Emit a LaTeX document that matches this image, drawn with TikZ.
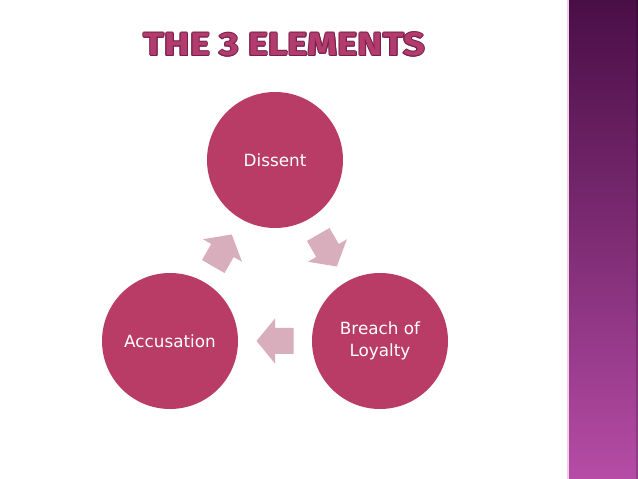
\documentclass[tikz,border=0pt]{standalone}
\usepackage{fontspec}
\setmainfont{DejaVu Sans}
\newfontfamily\titlefont{Fira Sans}[UprightFont=* Bold]
\usetikzlibrary{calc}
\definecolor{circfill}{HTML}{B83C66}
\definecolor{arrowfill}{HTML}{D9AEBC}
\definecolor{titlefill}{HTML}{B23C6E}
\definecolor{titleline}{HTML}{7A1E4B}
\definecolor{barTop}{HTML}{4A0E47}
\definecolor{barMid}{HTML}{7E2C74}
\definecolor{barBot}{HTML}{B64CA6}
\definecolor{barEdge}{HTML}{F2D0EA}
\tikzset{
  elem/.style={circle, fill=circfill, minimum size=136pt, inner sep=0pt,
    text=white, align=center, font=\fontsize{16.8}{22}\selectfont},
  cyc/.pic={\fill[arrowfill] (18.5,0) -- (0,22.5) -- (0,13) -- (-18.5,13)
     -- (-18.5,-13) -- (0,-13) -- (0,-22.5) -- cycle;},
}
\newcommand{\titletext}{\resizebox{281pt}{23pt}{\titlefont THE 3 ELEMENTS}}
\newcommand{\tcopy}[2]{\rlap{\hspace*{#1pt}\raisebox{#2pt}{\textcolor{titleline}{\titletext}}}}
\newcommand{\titlestack}{\leavevmode\tcopy{1}{0}\tcopy{-1}{0}\tcopy{0}{1}\tcopy{0}{-1}%
  \tcopy{0.7}{0.7}\tcopy{-0.7}{0.7}\tcopy{0.7}{-0.7}\tcopy{-0.7}{-0.7}%
  \textcolor{titlefill}{\titletext}}
\begin{document}
\begin{tikzpicture}[x=1pt,y=1pt]
\useasboundingbox (0,0) rectangle (638,479);
\fill[white] (0,0) rectangle (638,479);
% sidebar
\shade[top color=barTop, bottom color=barBot, middle color=barMid] (568,0) rectangle (638,479);
\fill[barEdge] (567,0) rectangle (568.6,479);
\fill[black, opacity=0.18] (635.5,0) rectangle (638,479);
% title
\node[inner sep=0pt] (title) at (284.5,434.5) {\titlestack};
% circles
\node[elem] (dis) at (275,319) {Dissent};
\node[elem] (bre) at (380,138) {Breach of\\Loyalty};
\node[elem] (acc) at (170,138) {Accusation};
% arrows
\path ($(dis)!0.5!(bre)$) pic[rotate=-60]{cyc};
\path ($(bre)!0.5!(acc)$) pic[rotate=180]{cyc};
\path ($(acc)!0.5!(dis)$) pic[rotate=60]{cyc};
\end{tikzpicture}
\end{document}
